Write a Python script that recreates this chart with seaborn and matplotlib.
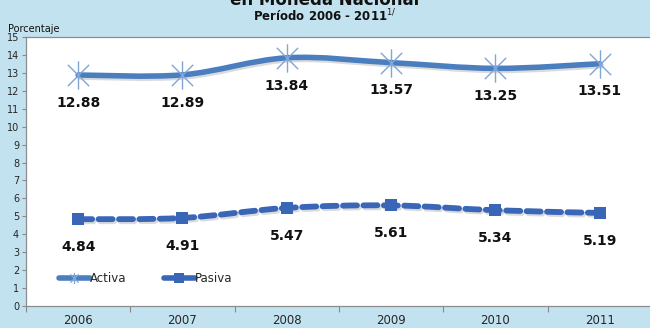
import numpy as np
import pandas as pd
import matplotlib
matplotlib.use("Agg")
import matplotlib.pyplot as plt
import matplotlib.patheffects as pe
from matplotlib.path import Path
from matplotlib.patches import PathPatch
from matplotlib.lines import Line2D
import seaborn as sns

years = ["2006", "2007", "2008", "2009", "2010", "2011"]
activa = [12.88, 12.89, 13.84, 13.57, 13.25, 13.51]
pasiva = [4.84, 4.91, 5.47, 5.61, 5.34, 5.19]
y_ticks = list(range(0, 16))

sns.set_theme(style="white")
plt.rcParams["font.family"] = ["Liberation Sans Narrow", "DejaVu Sans"]

BG = "#C3E2F0"
C_ACT = "#4A7EBF"
C_ACT_MK = "#7FA6D6"
C_PAS = "#3A66B8"

df = pd.DataFrame({
    "Año": years * 2,
    "Tasa": activa + pasiva,
    "Serie": ["Activa"] * 6 + ["Pasiva"] * 6,
})

fig = plt.figure(figsize=(6.5, 3.28), dpi=100, facecolor=BG)
ax = fig.add_axes([26 / 650, 22 / 328, 626 / 650, 269 / 328])
ax.set_facecolor("white")

# asterisk marker: vertical bar plus an X
star = Path(
    [(0, -1), (0, 1), (-0.75, -0.75), (0.75, 0.75), (-0.75, 0.75), (0.75, -0.75)],
    [Path.MOVETO, Path.LINETO, Path.MOVETO, Path.LINETO, Path.MOVETO, Path.LINETO],
)


def smooth_path(xs, ys):
    """Catmull-Rom style cubic Bezier through the points."""
    pts = np.column_stack([xs, ys]).astype(float)
    verts = [pts[0]]
    codes = [Path.MOVETO]
    n = len(pts)
    for i in range(n - 1):
        p0 = pts[i - 1] if i > 0 else pts[i]
        p1 = pts[i]
        p2 = pts[i + 1]
        p3 = pts[i + 2] if i + 2 < n else pts[i + 1]
        c1 = p1 + (p2 - p0) / 6.0
        c2 = p2 - (p3 - p1) / 6.0
        verts += [c1, c2, p2]
        codes += [Path.CURVE4] * 3
    return Path(verts, codes)


x = np.arange(len(years))
shadow = [pe.SimpleLineShadow(offset=(1.2, -1.5), shadow_color="#9A9A9A", alpha=0.35), pe.Normal()]

ax.add_patch(PathPatch(smooth_path(x, activa), fill=False, edgecolor=C_ACT, lw=4.0,
                       capstyle="round", path_effects=shadow, zorder=3))
ax.add_patch(PathPatch(smooth_path(x, pasiva), fill=False, edgecolor=C_PAS, lw=4.2,
                       linestyle=(0, (2.4, 1.1)), capstyle="round",
                       path_effects=shadow, zorder=3))

# markers drawn from the data with seaborn
sns.scatterplot(data=df[df.Serie == "Activa"], x="Año", y="Tasa", marker=star, s=420,
                color=C_ACT_MK, edgecolor=C_ACT_MK, linewidth=1.0, ax=ax, zorder=4,
                legend=False)
sns.scatterplot(data=df[df.Serie == "Pasiva"], x="Año", y="Tasa", marker="s", s=85,
                color=C_PAS, edgecolor=C_PAS, linewidth=0, ax=ax, zorder=4, legend=False)

for xi, v in zip(x, activa):
    ax.annotate(f"{v:.2f}", (xi, v), xytext=(0, -20), textcoords="offset points",
                ha="center", va="center", fontsize=10, fontweight="bold", color="#111111")
for xi, v in zip(x, pasiva):
    ax.annotate(f"{v:.2f}", (xi, v), xytext=(0, -20), textcoords="offset points",
                ha="center", va="center", fontsize=10, fontweight="bold", color="#111111")

ax.set_xlim(-0.5, 5.5)
ax.set_ylim(0, 15)
ax.set_yticks(y_ticks)
ax.set_yticklabels([str(t) for t in y_ticks], fontsize=7)
ax.set_xticks(x)
ax.set_xticklabels(years, fontsize=8.5)
ax.tick_params(axis="x", length=0, pad=6)
ax.tick_params(axis="y", length=3, width=0.8, color="#888888", pad=2, direction="out", left=True)
ax.set_xticks(np.arange(-0.5, 6.0, 1.0), minor=True)
ax.tick_params(axis="x", which="minor", length=4, width=0.8, color="#888888", direction="out", bottom=True)
ax.set_xlabel("")
ax.set_ylabel("")
for side in ["left", "bottom", "top"]:
    ax.spines[side].set_color("#8C8C8C")
    ax.spines[side].set_linewidth(0.9)
ax.spines["right"].set_visible(False)

handles = [
    Line2D([], [], color=C_ACT, lw=4, marker=star, markersize=8, markeredgecolor=C_ACT_MK,
           markeredgewidth=0.9),
    Line2D([], [], color=C_PAS, lw=4, marker="s", markersize=6.5, markerfacecolor=C_PAS,
           markeredgewidth=0),
]
ax.legend(handles, ["Activa", "Pasiva"], loc="lower left", bbox_to_anchor=(0.045, 0.06),
          ncol=2, frameon=False, fontsize=8.5, handlelength=2.6, handletextpad=0.0,
          columnspacing=3.2, borderaxespad=0)

fig.text(0.5, 1.0, "en Moneda Nacional", ha="center", va="center", fontsize=12,
         fontweight="bold", color="#111111")
fig.text(0.5, 0.952, r"Período 2006 - 2011$^{1/}$", ha="center", va="center",
         fontsize=8.5, fontweight="bold", color="#111111")
fig.text(0.013, 0.912, "Porcentaje", ha="left", va="center", fontsize=7, color="#111111")

fig.savefig("out.png", dpi=100, facecolor=BG)
